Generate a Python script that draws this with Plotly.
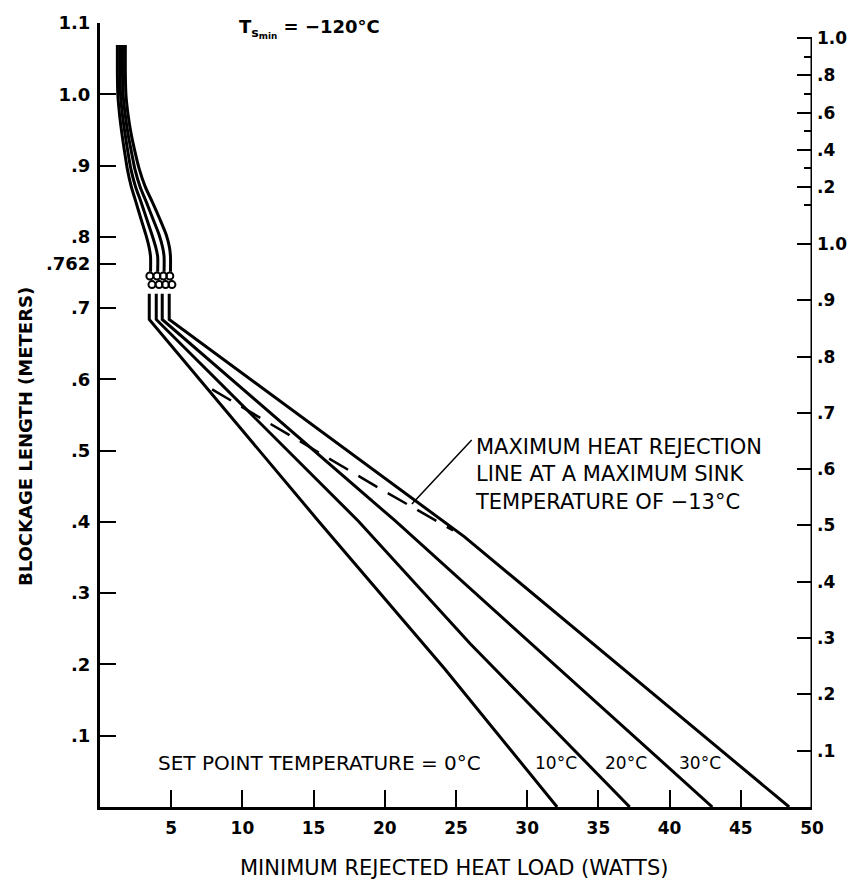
import plotly.graph_objects as go

# ---------------- data ----------------
set_points = ["0°C", "10°C", "20°C", "30°C"]

# upper section (above the scale break)
upper_y = [1.069, 1.03, 1.0, 0.97, 0.943, 0.92, 0.895, 0.87, 0.849, 0.825, 0.803, 0.785, 0.772, 0.751]
upper_x = {
    "0°C":  [1.22, 1.22, 1.25, 1.38, 1.55, 1.72, 1.92, 2.20, 2.52, 2.88, 3.22, 3.45, 3.55, 3.55],
    "10°C": [1.40, 1.40, 1.44, 1.58, 1.77, 1.95, 2.17, 2.50, 2.88, 3.28, 3.65, 3.92, 4.05, 4.05],
    "20°C": [1.58, 1.58, 1.62, 1.78, 1.98, 2.20, 2.45, 2.82, 3.25, 3.72, 4.15, 4.40, 4.50, 4.50],
    "30°C": [1.78, 1.78, 1.82, 1.98, 2.20, 2.45, 2.76, 3.18, 3.67, 4.20, 4.65, 4.88, 4.95, 4.95],
}

# lower section (below the scale break)
lower_x = {
    "0°C":  [3.46, 3.46, 15.35, 24.2, 32.1],
    "10°C": [3.95, 3.95, 18.15, 26.0, 37.2],
    "20°C": [4.37, 4.37, 20.7, 43.0],
    "30°C": [4.86, 4.86, 25.6, 48.4],
}
lower_y = {
    "0°C":  [0.720, 0.684, 0.401, 0.194, 0.0],
    "10°C": [0.720, 0.684, 0.401, 0.229, 0.0],
    "20°C": [0.720, 0.684, 0.402, 0.0],
    "30°C": [0.720, 0.684, 0.379, 0.0],
}

break_x = [3.5, 4.0, 4.45, 4.9]
break_y = [0.745, 0.733]

# maximum heat rejection line (dashed)
maxrej_x = [7.87, 13.95, 19.55, 24.8]
maxrej_y = [0.586, 0.514, 0.448, 0.388]

# axis ticks
x_ticks = [5, 10, 15, 20, 25, 30, 35, 40, 45, 50]
x_ticktext = [str(v) for v in x_ticks]
left_ticks = [0.1, 0.2, 0.3, 0.4, 0.5, 0.6, 0.7, 0.762, 0.8, 0.9, 1.0, 1.1]
left_ticktext = [".1", ".2", ".3", ".4", ".5", ".6", ".7", ".762", ".8", ".9", "1.0", "1.1"]

right_lower_vals = [0.1, 0.2, 0.3, 0.4, 0.5, 0.6, 0.7, 0.8, 0.9, 1.0]
right_lower_text = [".1", ".2", ".3", ".4", ".5", ".6", ".7", ".8", ".9", "1.0"]
right_upper_vals = [0.2, 0.4, 0.6, 0.8, 1.0]
right_upper_text = [".2", ".4", ".6", ".8", "1.0"]
right_upper_minor = [0.1, 0.3, 0.5, 0.7, 0.9]

# right-scale conversion to left-axis units
LOWER_FACTOR = 0.790
UPPER_OFFSET, UPPER_FACTOR = 0.818, 0.2605


def lower_to_left(v):
    return v * LOWER_FACTOR


def upper_to_left(v):
    return UPPER_OFFSET + v * UPPER_FACTOR


FONT = "DejaVu Sans"
fig = go.Figure()

for sp in set_points:
    fig.add_trace(go.Scatter(x=upper_x[sp], y=upper_y, mode="lines",
                             line=dict(color="black", width=3, shape="spline", smoothing=0.6),
                             showlegend=False, hoverinfo="skip"))
    fig.add_trace(go.Scatter(x=lower_x[sp], y=lower_y[sp], mode="lines",
                             line=dict(color="black", width=3),
                             showlegend=False, hoverinfo="skip"))

# scale-break squiggles
for i, by in enumerate(break_y):
    fig.add_trace(go.Scatter(x=[bx + 0.15 * i for bx in break_x], y=[by] * len(break_x),
                             mode="markers",
                             marker=dict(symbol="circle-open", size=7, color="black",
                                         line=dict(width=2, color="black")),
                             showlegend=False, hoverinfo="skip"))

fig.add_trace(go.Scatter(x=maxrej_x, y=maxrej_y, mode="lines",
                         line=dict(color="black", width=2.5, dash="22px,12px"),
                         showlegend=False, hoverinfo="skip"))

# dummy trace for the right axis
fig.add_trace(go.Scatter(x=[None], y=[None], yaxis="y2", showlegend=False, hoverinfo="skip"))

right_tickvals = [lower_to_left(v) for v in right_lower_vals] + [upper_to_left(v) for v in right_upper_vals]
right_ticktext = right_lower_text + right_upper_text

fig.update_layout(
    width=859, height=890,
    margin=dict(l=100, r=43, t=20, b=83),
    paper_bgcolor="white", plot_bgcolor="white",
    font=dict(family=FONT, color="black"),
    xaxis=dict(range=[0, 50], showgrid=False, zeroline=False,
               showline=True, linecolor="black", linewidth=3,
               ticks="inside", ticklen=17, tickwidth=2, tickcolor="black",
               tickmode="array", tickvals=x_ticks, ticktext=x_ticktext,
               tickfont=dict(size=17, family=FONT, weight="bold"),
               ticklabelstandoff=4),
    yaxis=dict(range=[0, 1.1], showgrid=False, zeroline=False,
               showline=True, linecolor="black", linewidth=3,
               ticks="inside", ticklen=16, tickwidth=2, tickcolor="black",
               tickmode="array", tickvals=left_ticks, ticktext=left_ticktext,
               tickfont=dict(size=18, family=FONT, weight="bold"),
               ticklabelstandoff=3),
    yaxis2=dict(range=[0, 1.1], overlaying="y", side="right", showgrid=False,
                zeroline=False, showline=False,
                ticks="inside", ticklen=15, tickwidth=2, tickcolor="black",
                tickmode="array", tickvals=right_tickvals, ticktext=right_ticktext,
                tickfont=dict(size=17, family=FONT, weight="bold"),
                minor=dict(tickmode="array",
                           tickvals=[upper_to_left(v) for v in right_upper_minor],
                           ticks="inside", ticklen=8, tickwidth=2, tickcolor="black"),
                ticklabelstandoff=4),
)

# right axis line
fig.add_shape(type="line", xref="x", yref="y", x0=50, x1=50, y0=0,
              y1=upper_to_left(1.0), line=dict(color="black", width=3))

# labels
fig.add_annotation(x=3.95, y=0.0615, xref="x", yref="y", xanchor="left", yanchor="middle",
                   text="SET POINT TEMPERATURE = 0°C", showarrow=False,
                   font=dict(size=20, family=FONT))
for lbl, lx in zip(set_points[1:], [30.4, 35.3, 40.5]):
    fig.add_annotation(x=lx, y=0.0615, xref="x", yref="y", xanchor="left", yanchor="middle",
                       text=lbl, showarrow=False, font=dict(size=17, family=FONT))

fig.add_annotation(x=26.2, y=0.467, xref="x", yref="y", xanchor="left", yanchor="middle",
                   align="left",
                   text="MAXIMUM HEAT REJECTION<br>LINE AT A MAXIMUM SINK<br>TEMPERATURE OF −13°C",
                   showarrow=False, font=dict(size=21, family=FONT))
# leader line
fig.add_annotation(x=21.9, y=0.425, ax=26.2, ay=0.517, xref="x", yref="y",
                   axref="x", ayref="y", text="", showarrow=True, arrowhead=0,
                   arrowwidth=1.5, arrowcolor="black")

fig.add_annotation(x=9.6, y=1.092, xref="x", yref="y", xanchor="left", yanchor="middle",
                   text="T<sub>s<sub>min</sub></sub> = −120°C", showarrow=False,
                   font=dict(size=18, family=FONT, weight="bold"))

fig.add_annotation(x=0.497, y=-0.0775, xref="paper", yref="paper", xanchor="center",
                   yanchor="middle", text="MINIMUM REJECTED HEAT LOAD (WATTS)",
                   showarrow=False, font=dict(size=21, family=FONT))
fig.add_annotation(x=-0.1055, y=0.473, xref="paper", yref="paper", xanchor="center",
                   yanchor="middle", textangle=-90, text="BLOCKAGE LENGTH (METERS)",
                   showarrow=False, font=dict(size=18, family=FONT, weight="bold"))

fig.write_html("out.html")
